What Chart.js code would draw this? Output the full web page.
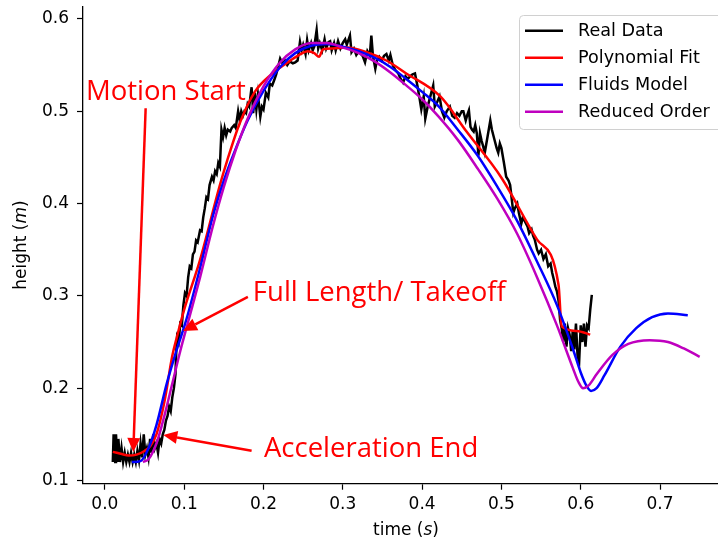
<!DOCTYPE html>
<html>
<head>
<meta charset="utf-8">
<script src="https://cdn.jsdelivr.net/npm/chart.js@4.4.1/dist/chart.umd.min.js"></script>
<style>
  html, body { margin: 0; padding: 0; background: #fff; }
  #wrap { width: 718px; height: 544px; overflow: hidden; }
</style>
</head>
<body>
<div id="wrap"><canvas id="chart" width="718" height="544"></canvas></div>
<script>
// measured jump height vs time
const realTime = [
  0.010, 0.011, 0.013, 0.014, 0.016, 0.017, 0.019, 0.021, 0.023, 0.025, 0.027, 0.029, 0.031, 0.033, 0.035,
  0.037, 0.039, 0.041, 0.043, 0.045, 0.047, 0.049, 0.051, 0.053, 0.055, 0.057, 0.059, 0.061, 0.063, 0.065,
  0.067, 0.069, 0.071, 0.073, 0.075, 0.077, 0.079, 0.081, 0.083, 0.085, 0.087, 0.089, 0.090, 0.091, 0.093,
  0.095, 0.097, 0.099, 0.101, 0.103, 0.105, 0.107, 0.109, 0.111, 0.113, 0.115, 0.117, 0.120, 0.122, 0.124,
  0.126, 0.128, 0.130, 0.132, 0.135, 0.137, 0.139, 0.141, 0.143, 0.145, 0.147, 0.149, 0.151, 0.153, 0.155,
  0.158, 0.160, 0.163, 0.165, 0.168, 0.170, 0.172, 0.174, 0.176, 0.178, 0.180, 0.182, 0.185, 0.187, 0.189,
  0.191, 0.193, 0.196, 0.198, 0.200, 0.203, 0.206, 0.208, 0.211, 0.214, 0.216, 0.219, 0.221, 0.224, 0.227,
  0.230, 0.233, 0.237, 0.240, 0.243, 0.246, 0.248, 0.250, 0.253, 0.255, 0.257, 0.260, 0.262, 0.264, 0.267,
  0.269, 0.271, 0.274, 0.277, 0.279, 0.282, 0.284, 0.286, 0.289, 0.291, 0.294, 0.297, 0.300, 0.303, 0.305,
  0.307, 0.309, 0.311, 0.314, 0.317, 0.320, 0.322, 0.325, 0.328, 0.331, 0.334, 0.336, 0.338, 0.341, 0.343,
  0.346, 0.349, 0.352, 0.355, 0.358, 0.360, 0.363, 0.366, 0.370, 0.373, 0.376, 0.379, 0.382, 0.385, 0.388,
  0.391, 0.394, 0.397, 0.399, 0.402, 0.404, 0.407, 0.410, 0.414, 0.416, 0.419, 0.422, 0.425, 0.428, 0.431,
  0.435, 0.438, 0.441, 0.444, 0.447, 0.450, 0.452, 0.455, 0.457, 0.459, 0.461, 0.463, 0.465, 0.467, 0.469,
  0.471, 0.473, 0.475, 0.477, 0.479, 0.482, 0.486, 0.488, 0.491, 0.494, 0.496, 0.498, 0.500, 0.503, 0.506,
  0.509, 0.511, 0.513, 0.515, 0.517, 0.520, 0.522, 0.525, 0.527, 0.530, 0.533, 0.535, 0.538, 0.540, 0.542,
  0.545, 0.547, 0.550, 0.553, 0.556, 0.559, 0.562, 0.564, 0.566, 0.568, 0.570, 0.572, 0.574, 0.576, 0.578,
  0.580, 0.582, 0.584, 0.586, 0.588, 0.590, 0.592, 0.594, 0.596, 0.598, 0.600, 0.602, 0.604, 0.606, 0.608,
  0.610, 0.612, 0.614
];
const realHeight = [
  0.120, 0.150, 0.120, 0.150, 0.120, 0.145, 0.120, 0.135, 0.120, 0.130, 0.120, 0.128, 0.120, 0.130, 0.120,
  0.128, 0.120, 0.132, 0.122, 0.140, 0.125, 0.150, 0.128, 0.135, 0.125, 0.145, 0.130, 0.150, 0.135, 0.140,
  0.130, 0.145, 0.140, 0.150, 0.155, 0.165, 0.170, 0.180, 0.175, 0.190, 0.200, 0.215, 0.240, 0.255, 0.250,
  0.270, 0.268, 0.290, 0.303, 0.300, 0.320, 0.332, 0.330, 0.345, 0.348, 0.360, 0.358, 0.371, 0.370, 0.385,
  0.395, 0.407, 0.405, 0.420, 0.429, 0.425, 0.435, 0.432, 0.444, 0.440, 0.480, 0.472, 0.482, 0.474, 0.480,
  0.478, 0.482, 0.485, 0.482, 0.500, 0.490, 0.500, 0.495, 0.500, 0.498, 0.508, 0.505, 0.526, 0.498, 0.520,
  0.502, 0.518, 0.494, 0.505, 0.502, 0.520, 0.515, 0.530, 0.528, 0.535, 0.540, 0.550, 0.557, 0.552, 0.555,
  0.550, 0.554, 0.552, 0.553, 0.555, 0.575, 0.566, 0.572, 0.562, 0.577, 0.566, 0.574, 0.566, 0.570, 0.588,
  0.568, 0.574, 0.566, 0.578, 0.568, 0.575, 0.576, 0.566, 0.574, 0.566, 0.576, 0.568, 0.574, 0.578, 0.572,
  0.577, 0.582, 0.564, 0.568, 0.561, 0.565, 0.563, 0.560, 0.553, 0.565, 0.560, 0.582, 0.560, 0.546, 0.555,
  0.559, 0.555, 0.560, 0.562, 0.555, 0.561, 0.550, 0.545, 0.541, 0.535, 0.531, 0.538, 0.535, 0.538, 0.540,
  0.541, 0.528, 0.513, 0.502, 0.516, 0.492, 0.505, 0.515, 0.528, 0.505, 0.510, 0.516, 0.500, 0.493, 0.500,
  0.505, 0.495, 0.493, 0.498, 0.495, 0.500, 0.500, 0.490, 0.496, 0.501, 0.483, 0.480, 0.478, 0.485, 0.476,
  0.452, 0.476, 0.468, 0.462, 0.455, 0.470, 0.490, 0.480, 0.470, 0.460, 0.455, 0.465, 0.460, 0.445, 0.429,
  0.425, 0.420, 0.405, 0.390, 0.395, 0.400, 0.390, 0.378, 0.385, 0.380, 0.375, 0.368, 0.372, 0.365, 0.361,
  0.350, 0.346, 0.350, 0.340, 0.345, 0.332, 0.335, 0.325, 0.318, 0.310, 0.305, 0.295, 0.274, 0.265, 0.250,
  0.270, 0.245, 0.265, 0.258, 0.240, 0.263, 0.242, 0.270, 0.235, 0.228, 0.268, 0.250, 0.270, 0.245, 0.268,
  0.265, 0.285, 0.301
];

// polynomial fit of the measured data
const polyTime = [
  0.010, 0.020, 0.030, 0.040, 0.050, 0.057, 0.065, 0.075, 0.085, 0.091, 0.100, 0.120, 0.145, 0.154, 0.170,
  0.189, 0.210, 0.229, 0.245, 0.256, 0.264, 0.270, 0.275, 0.287, 0.305, 0.330, 0.355, 0.380, 0.423, 0.456,
  0.500, 0.545, 0.572, 0.576, 0.595, 0.612
];
const polyHeight = [
  0.131, 0.129, 0.127, 0.128, 0.132, 0.137, 0.150, 0.185, 0.235, 0.256, 0.285, 0.339, 0.420, 0.446, 0.487,
  0.521, 0.540, 0.552, 0.561, 0.565, 0.563, 0.559, 0.567, 0.568, 0.569, 0.564, 0.555, 0.541, 0.516, 0.478,
  0.428, 0.361, 0.312, 0.267, 0.262, 0.258
];

// fluids model prediction
const fluidTime = [
  0.034, 0.045, 0.055, 0.065, 0.078, 0.090, 0.103, 0.120, 0.136, 0.150, 0.162, 0.180, 0.200, 0.221, 0.240,
  0.260, 0.280, 0.300, 0.320, 0.340, 0.360, 0.380, 0.400, 0.420, 0.445, 0.470, 0.495, 0.520, 0.545, 0.570,
  0.590, 0.600, 0.607, 0.613, 0.620, 0.630, 0.650, 0.670, 0.690, 0.710, 0.735
];
const fluidHeight = [
  0.120, 0.121, 0.135, 0.160, 0.205, 0.240, 0.275, 0.330, 0.386, 0.425, 0.453, 0.490, 0.522, 0.548, 0.563,
  0.571, 0.573, 0.570, 0.565, 0.558, 0.548, 0.535, 0.521, 0.506, 0.480, 0.452, 0.418, 0.381, 0.337, 0.290,
  0.243, 0.217, 0.203, 0.197, 0.200, 0.214, 0.245, 0.265, 0.277, 0.281, 0.279
];

// reduced order model prediction
const reducedTime = [
  0.048, 0.055, 0.065, 0.075, 0.085, 0.095, 0.105, 0.120, 0.136, 0.150, 0.165, 0.180, 0.200, 0.220, 0.240,
  0.260, 0.280, 0.300, 0.320, 0.340, 0.360, 0.380, 0.400, 0.420, 0.445, 0.470, 0.495, 0.520, 0.545, 0.570,
  0.590, 0.597, 0.603, 0.610, 0.620, 0.640, 0.660, 0.687, 0.710, 0.730, 0.750
];
const reducedHeight = [
  0.120, 0.123, 0.140, 0.170, 0.205, 0.240, 0.272, 0.320, 0.375, 0.418, 0.458, 0.492, 0.527, 0.552, 0.567,
  0.574, 0.574, 0.569, 0.563, 0.554, 0.542, 0.528, 0.513, 0.495, 0.469, 0.438, 0.405, 0.367, 0.320, 0.268,
  0.222, 0.207, 0.200, 0.203, 0.215, 0.236, 0.248, 0.252, 0.250, 0.243, 0.234
];

const xTicks = [0.0, 0.1, 0.2, 0.3, 0.4, 0.5, 0.6, 0.7];
const yTicks = [0.1, 0.2, 0.3, 0.4, 0.5, 0.6];

const seriesNames = ["Real Data", "Polynomial Fit", "Fluids Model", "Reduced Order"];
const seriesColors = ["#000000", "#ff0000", "#0000ff", "#bf00bf"];

// arrows: text baseline-left point, arrow tail, arrow tip (all in data units)
const notes = [
  { text: "Motion Start", at: [-0.0238, 0.5122], tail: [0.0514, 0.5032], tip: [0.0358, 0.1309] },
  { text: "Full Length/ Takeoff", at: [0.1866, 0.2945], tail: [0.1803, 0.2988], tip: [0.0984, 0.2620] },
  { text: "Acceleration End", at: [0.2005, 0.1251], tail: [0.1850, 0.1323], tip: [0.0736, 0.1493] }
];

const TICK_FONT = "17px 'DejaVu Sans'";
const LEGEND_FONT = "17.6px 'DejaVu Sans'";
const NOTE_FONT = "27.5px 'Open Sans'";

function pairs(xs, ys) {
  return xs.map((x, i) => ({ x: x, y: ys[i] }));
}

function drawMixed(ctx, parts, cx, cy) {
  let total = 0;
  parts.forEach(p => {
    ctx.font = (p.italic ? "oblique " : "") + TICK_FONT;
    p.w = ctx.measureText(p.text).width;
    total += p.w;
  });
  let x = cx - total / 2;
  parts.forEach(p => {
    ctx.font = (p.italic ? "oblique " : "") + TICK_FONT;
    ctx.fillText(p.text, x, cy);
    x += p.w;
  });
}

const overlay = {
  id: "overlay",
  afterDatasetsDraw(chart) {
    const ctx = chart.ctx;
    const xs = chart.scales.x, ys = chart.scales.y;
    ctx.save();

    // annotation arrows and labels
    notes.forEach(n => {
      const x0 = xs.getPixelForValue(n.tail[0]), y0 = ys.getPixelForValue(n.tail[1]);
      const x1 = xs.getPixelForValue(n.tip[0]), y1 = ys.getPixelForValue(n.tip[1]);
      const ang = Math.atan2(y1 - y0, x1 - x0);
      const headLen = 14, headHalf = 6.5;
      const bx = x1 - headLen * Math.cos(ang), by = y1 - headLen * Math.sin(ang);
      ctx.strokeStyle = "#ff0000";
      ctx.fillStyle = "#ff0000";
      ctx.lineWidth = 2.5;
      ctx.beginPath();
      ctx.moveTo(x0, y0);
      ctx.lineTo(bx, by);
      ctx.stroke();
      ctx.beginPath();
      ctx.moveTo(x1, y1);
      ctx.lineTo(bx + headHalf * Math.sin(ang), by - headHalf * Math.cos(ang));
      ctx.lineTo(bx - headHalf * Math.sin(ang), by + headHalf * Math.cos(ang));
      ctx.closePath();
      ctx.fill();

      ctx.font = NOTE_FONT;
      ctx.textAlign = "left";
      ctx.textBaseline = "alphabetic";
      ctx.fillText(n.text, xs.getPixelForValue(n.at[0]), ys.getPixelForValue(n.at[1]));
    });

    // legend box in the upper right
    const lx = 519, ly = 15, lw = 210, lh = 114;
    ctx.fillStyle = "rgba(255,255,255,0.85)";
    ctx.strokeStyle = "#d0d0d0";
    ctx.lineWidth = 1;
    ctx.beginPath();
    ctx.roundRect(lx + 0.5, ly + 0.5, lw, lh, 4);
    ctx.fill();
    ctx.stroke();
    ctx.font = LEGEND_FONT;
    ctx.textBaseline = "middle";
    seriesNames.forEach((name, i) => {
      const y = 30.7 + i * 27;
      ctx.strokeStyle = seriesColors[i];
      ctx.lineWidth = 2.5;
      ctx.beginPath();
      ctx.moveTo(525, y);
      ctx.lineTo(563, y);
      ctx.stroke();
      ctx.fillStyle = "#000";
      ctx.fillText(name, 578, y + 1);
    });

    // axis titles with italic units
    ctx.fillStyle = "#000";
    ctx.textBaseline = "middle";
    ctx.textAlign = "left";
    const midX = (chart.chartArea.left + xs.getPixelForValue(0.787)) / 2;
    drawMixed(ctx, [{ text: "time (" }, { text: "s", italic: true }, { text: ")" }], midX, 531);
    ctx.translate(22, (chart.chartArea.top + chart.chartArea.bottom) / 2);
    ctx.rotate(-Math.PI / 2);
    drawMixed(ctx, [{ text: "height (" }, { text: "m", italic: true }, { text: ")" }], 0, 0);
    ctx.restore();
  }
};

const lineStyle = (i) => ({
  borderColor: seriesColors[i],
  borderWidth: 2.5,
  pointRadius: 0,
  fill: false
});

new Chart(document.getElementById("chart").getContext("2d"), {
  type: "line",
  data: {
    datasets: [
      Object.assign({ label: seriesNames[0], data: pairs(realTime, realHeight), tension: 0, order: 4 }, lineStyle(0)),
      Object.assign({ label: seriesNames[1], data: pairs(polyTime, polyHeight), cubicInterpolationMode: "monotone", order: 3 }, lineStyle(1)),
      Object.assign({ label: seriesNames[2], data: pairs(fluidTime, fluidHeight), cubicInterpolationMode: "monotone", order: 2 }, lineStyle(2)),
      Object.assign({ label: seriesNames[3], data: pairs(reducedTime, reducedHeight), cubicInterpolationMode: "monotone", order: 1 }, lineStyle(3))
    ]
  },
  options: {
    responsive: false,
    animation: false,
    layout: { padding: { top: 6.5, right: 0, left: 0, bottom: 0 } },
    plugins: { legend: { display: false }, tooltip: { enabled: false } },
    scales: {
      x: {
        type: "linear",
        min: -0.0276,
        max: 0.7731,
        afterBuildTicks: (s) => { s.ticks = xTicks.map(v => ({ value: v })); },
        afterFit: (s) => { s.height = 60.3; s.paddingLeft = 0; s.paddingRight = 0; },
        grid: { drawOnChartArea: false, drawTicks: true, tickLength: 6, tickColor: "#000", tickWidth: 1.2 },
        border: { display: true, color: "#000", width: 1.3 },
        ticks: {
          color: "#000",
          font: { family: "DejaVu Sans", size: 17 },
          padding: 5,
          maxRotation: 0,
          callback: (v) => Number(v).toFixed(1)
        }
      },
      y: {
        type: "linear",
        min: 0.0965,
        max: 0.6135,
        afterBuildTicks: (s) => { s.ticks = yTicks.map(v => ({ value: v })); },
        afterFit: (s) => { s.width = 83; s.paddingTop = 0; s.paddingBottom = 0; },
        grid: { drawOnChartArea: false, drawTicks: true, tickLength: 6, tickColor: "#000", tickWidth: 1.2 },
        border: { display: true, color: "#000", width: 1.3 },
        ticks: {
          color: "#000",
          font: { family: "DejaVu Sans", size: 17 },
          padding: 8,
          callback: (v) => Number(v).toFixed(1)
        }
      }
    }
  },
  plugins: [overlay]
});
</script>
</body>
</html>
